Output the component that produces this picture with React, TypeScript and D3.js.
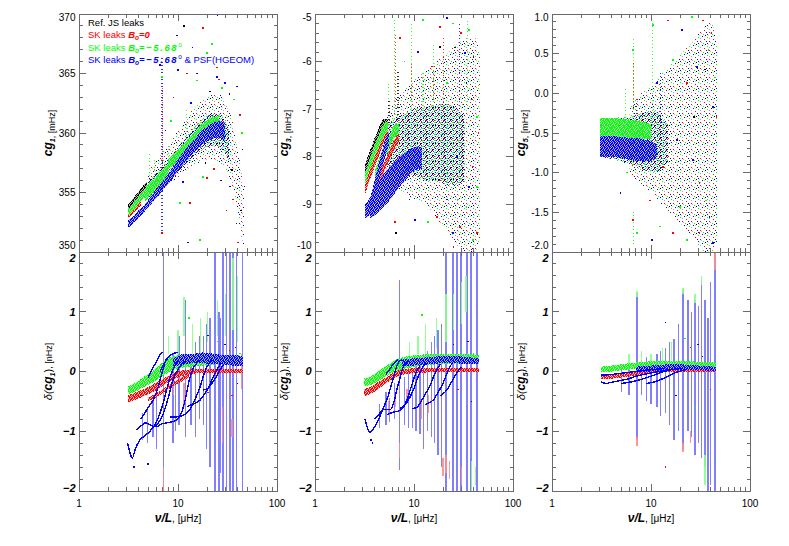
import React from "react";
import * as d3 from "d3";

// [nu, value]   [nu, lo, hi]   [nu, value, colour]   [nu, lo, hi, colour]
type Pt = [number, number];
type Band = [number, number, number];
type Dot = [number, number, number];
type Seg = [number, number, number, number];

const SERIES = ["Ref. JS leaks", "SK leaks B0=0", "SK leaks B0=-5.68", "SK leaks B0=-5.68 & PSF(HGEOM)"];
const COLORS = ["#000000", "#ff0000", "#00ff00", "#0000ff"];
const PALE = ["#9a9a9a", "#ff9c9c", "#9cff9c", "#9c9cff"];
const BAR_COLORS = ["#808080", "#ff8a8a", "#8aff8a", "#7373ff"];

const X_TICKS = [1, 10, 100];
const X_MINOR = [2, 3, 4, 5, 6, 7, 8, 9, 20, 30, 40, 50, 60, 70, 80, 90];

const CG1_TICKS = [350, 355, 360, 365, 370];
const CG3_TICKS = [-10, -9, -8, -7, -6, -5];
const CG5_TICKS = [-2, -1.5, -1, -0.5, 0, 0.5, 1];
const DELTA_TICKS = [-2, -1, 0, 1, 2];

// ---------- cg1 (top left) ----------
const cg1Sparse: Band[] = [
  [5, 354.6, 356.8], [6, 354.9, 357.6], [7, 355.2, 358.4], [8.5, 355.8, 359.3], [10, 356.3, 360.2],
  [12, 356.8, 361.2], [15, 357.3, 362.2], [18, 357.7, 362.8], [22, 357.8, 363.3], [26, 357.5, 363.3],
  [30, 357, 362.5], [34, 356, 361.5], [38, 354.5, 360], [42, 352.2, 358], [46, 350.3, 355.5],
];
const cg1Dense: Band[] = [
  [5, 354.6, 356], [6, 355, 356.6], [7, 355.4, 357.2], [8.5, 356, 358], [10, 356.6, 358.8],
  [12, 357.3, 359.6], [15, 358.1, 360.6], [18, 358.6, 361.2], [22, 358.9, 361.6], [26, 358.8, 361.6],
  [30, 358.3, 361.1], [33, 357.5, 360.3],
];
const cg1Bands: [number, Band[]][] = [
  [0, [[3.1, 353.4, 353.9], [3.6, 354, 354.6], [4.2, 354.7, 355.3], [4.9, 355.4, 356]]],
  [1, [[3.1, 352.8, 353.1], [3.6, 353.3, 353.7], [4.2, 353.9, 354.3]]],
  [2, [[3.1, 353.0, 353.5], [3.6, 353.6, 354.2], [4.2, 354.2, 354.9], [5.0, 354.9, 355.7], [5.6, 355.4, 356.2]]],
  [2, [[4.6, 354.2, 354.8], [5.2, 354.7, 355.5], [6, 355.3, 356.3], [7, 355.9, 357], [8, 356.4, 357.5]]],
  [2, [[8, 357, 357.8], [10, 357.6, 358.6], [12, 358.3, 359.3], [15, 359.2, 360.2], [18, 359.8, 360.9], [22, 360.3, 361.3], [26, 360.4, 361.5]]],
  [3, [[3.1, 352.0, 352.6], [3.5, 352.4, 353.0], [4.0, 352.9, 353.5], [4.6, 353.4, 354.0], [5.3, 354.0, 354.7],
       [6.2, 354.6, 355.4], [7.2, 355.3, 356.1], [8.5, 356.0, 356.9], [10, 356.8, 357.8], [12, 357.6, 358.7],
       [15, 358.5, 359.6], [18, 359.1, 360.3], [22, 359.5, 360.8], [26, 359.6, 361], [30, 359.2, 360.8]]],
];
const cg1Spikes: Seg[] = [
  [6.9, 351.5, 366.5, 3], [7.0, 355.5, 364, 1], [5.2, 355.5, 358.2, 2], [5.8, 355.6, 357.8, 2],
  [8.0, 356.5, 359.2, 2], [12.2, 358, 362, 2],
];
const cg1Dots: Dot[] = [
  [6.6, 365.7, 3], [9.8, 368.2, 3], [11.5, 369, 0], [17.9, 368.8, 1], [25, 369.9, 3], [19.6, 366.7, 2],
  [24.6, 365.5, 1], [15.5, 365, 3], [10, 365.3, 3], [6.9, 364.7, 2], [12.3, 365, 1], [15.5, 364.4, 2],
  [24.8, 364.7, 3], [26, 364.5, 1], [39.4, 363.9, 3], [45, 358.6, 3], [40.4, 350.8, 1], [39, 352.4, 3],
  [16.6, 351, 2], [12.6, 350.8, 3], [6.9, 351.6, 1], [31, 353.5, 1], [13.2, 354.1, 1], [17.9, 356.3, 2],
  [19.6, 356.2, 1], [11.2, 355.9, 3], [10.5, 354.1, 2], [33.5, 355.5, 3], [36, 354.4, 1], [35, 356.9, 0],
  [28, 363.8, 2], [30, 364.2, 3], [21, 363.5, 0], [8.5, 361, 2], [7.5, 360.2, 3], [9, 363, 1],
  [13.5, 362.5, 3], [44, 360, 2], [42, 361.5, 1], [37, 362.8, 2], [33, 363.3, 3], [22, 367.5, 2],
  [14, 367.2, 3], [47, 355.5, 3], [43, 353.5, 0], [27, 356, 3], [23, 357, 1], [19, 357.5, 0],
];

// ---------- cg3 (top middle) ----------
const cg3Sparse: Band[] = [
  [5.2, -8.4, -7.2], [6.5, -8.7, -6.8], [8, -8.8, -6.6], [10, -8.9, -6.4], [13, -9.0, -6.2],
  [17, -9.3, -6.0], [22, -9.6, -5.8], [28, -9.9, -5.6], [35, -10, -5.5], [42, -10, -5.5], [46, -9.8, -5.8],
];
const cg3Dense: Band[] = [
  [5.3, -8.2, -7.3], [6.5, -8.3, -7.2], [8, -8.4, -7.1], [10, -8.4, -7.0], [13, -8.5, -6.95],
  [17, -8.5, -6.9], [22, -8.6, -6.9], [28, -8.6, -7.0], [33, -8.5, -7.2],
];
const cg3Bands: [number, Band[]][] = [
  [0, [[3.2, -8.35, -8.15], [3.7, -8.0, -7.8], [4.3, -7.7, -7.45], [5.0, -7.45, -7.2], [5.5, -7.4, -7.2]]],
  [1, [[3.2, -8.8, -8.6], [3.7, -8.4, -8.2], [4.3, -8.05, -7.85], [5.0, -7.7, -7.5], [5.4, -7.6, -7.4]]],
  [1, [[4.0, -8.75, -8.55], [4.6, -8.5, -8.3], [5.4, -8.15, -7.95], [6.3, -7.85, -7.65], [7.0, -7.7, -7.5]]],
  [2, [[3.2, -8.6, -8.35], [3.7, -8.2, -7.95], [4.3, -7.85, -7.6], [5.0, -7.55, -7.3], [5.5, -7.45, -7.25]]],
  [2, [[4.0, -8.55, -8.3], [4.6, -8.2, -7.95], [5.4, -7.9, -7.65], [6.3, -7.6, -7.35], [7.0, -7.5, -7.3]]],
  [3, [[3.2, -9.3, -9.0], [3.6, -9.2, -8.85], [4.1, -8.8, -8.4], [4.7, -8.3, -7.9], [5.2, -7.95, -7.6], [5.6, -7.75, -7.45]]],
  [3, [[3.6, -9.3, -8.9], [4.2, -9.2, -8.6], [5.0, -9.05, -8.35], [6, -8.85, -8.15], [7, -8.65, -8.0],
       [8.5, -8.45, -7.9], [10, -8.3, -7.8], [12, -8.25, -7.8]]],
];
const cg3Spikes: Seg[] = [
  [5.5, -7.3, -6.4, 2], [5.6, -7.3, -6.8, 0], [6.3, -7.2, -5.1, 2], [6.45, -7.0, -5.4, 1], [6.9, -7.2, -6.2, 0],
  [9.5, -7.0, -5.2, 2], [9.4, -6.8, -6.0, 1], [12.3, -7.0, -6.2, 2], [15.6, -7.0, -5.6, 2], [15.8, -6.8, -6.2, 1],
  [29, -7, -5.2, 3], [35, -7, -5.1, 2], [20, -7, -5.5, 1],
];
const cg3Dots: Dot[] = [
  [12.3, -5.13, 2], [18.3, -5.27, 1], [21.5, -5.08, 3], [24.8, -5.2, 2], [30, -5.4, 1], [36, -5.34, 2],
  [32.7, -5.82, 3], [18.3, -5.69, 0], [15.2, -6.1, 1], [21.5, -6.45, 2], [34, -6.45, 3], [38.5, -6.8, 1],
  [43, -7.16, 2], [39.5, -8.2, 1], [36, -8.63, 3], [34, -9.05, 2], [29, -9.48, 1], [24.8, -9.6, 3],
  [39.5, -9.75, 2], [43, -9.6, 1], [21.5, -8.9, 3], [17, -9.26, 1], [13.8, -9.37, 2], [6.4, -9.37, 1],
  [6.6, -9.6, 0], [10.2, -9.33, 3], [43, -8.63, 2], [18.3, -8.5, 1], [21.5, -8.35, 2], [27, -8.0, 3],
  [8.0, -6.0, 2], [7.2, -5.5, 1], [11, -5.8, 3], [26, -5.7, 0], [40, -5.9, 3], [45, -6.5, 2],
  [45, -7.5, 1], [31, -6.9, 2], [28, -8.9, 2], [14, -8.9, 1], [9, -8.9, 3], [25, -9.9, 1], [38, -9.95, 3],
];

// ---------- cg5 (top right) ----------
const cg5Sparse: Band[] = [
  [6, -1.0, -0.2], [8, -1.15, 0.0], [10, -1.25, 0.1], [13, -1.4, 0.25], [17, -1.55, 0.4],
  [22, -1.7, 0.55], [28, -1.85, 0.7], [35, -2.0, 0.85], [42, -2.0, 0.9], [46, -1.9, 0.6],
];
const cg5Dense: Band[] = [
  [3.05, -0.8, -0.32], [5, -0.86, -0.3], [7, -0.92, -0.28], [9, -0.98, -0.22], [11, -1.0, -0.22],
  [13, -0.95, -0.3], [15, -0.85, -0.4],
];
const cg5Bands: [number, Band[]][] = [
  [0, [[3.05, -0.4, -0.34], [4, -0.39, -0.33], [5, -0.4, -0.34]]],
  [1, [[3.05, -0.72, -0.6], [4, -0.72, -0.6], [5, -0.74, -0.6], [6, -0.76, -0.62]]],
  [2, [[3.05, -0.56, -0.31], [4, -0.56, -0.31], [5, -0.56, -0.32], [6, -0.57, -0.33], [7, -0.58, -0.34], [8.5, -0.58, -0.36], [10, -0.58, -0.4]]],
  [3, [[3.05, -0.8, -0.54], [4, -0.8, -0.54], [5, -0.82, -0.55], [6, -0.84, -0.56], [7, -0.85, -0.56], [8.5, -0.86, -0.58], [10, -0.85, -0.6], [11.5, -0.8, -0.64]]],
];
const cg5Spikes: Seg[] = [
  [5.5, -0.4, 0.05, 2], [6.6, -0.3, 0.7, 2], [6.7, -0.2, 0.4, 1], [7.2, -0.35, -0.05, 0],
  [10.3, -0.4, 0.9, 2], [12.5, -0.5, 0.3, 3], [6.6, -1.9, -1.5, 2],
];
const cg5Dots: Dot[] = [
  [10.5, 0.86, 2], [14.8, 0.92, 1], [20.5, 0.8, 3], [26, 0.96, 2], [33.5, 0.92, 1], [41, 0.76, 1],
  [38, 0.55, 2], [29, 0.33, 3], [23, 0.13, 1], [16.7, 0.42, 2], [11.5, 0.13, 3], [6.6, 0.55, 2],
  [7.2, -0.08, 1], [42, -0.17, 3], [46, -0.3, 1], [31, -1.13, 1], [36, -1.35, 2], [39, -1.56, 3],
  [31, -1.76, 1], [23, -1.85, 2], [42, -1.89, 3], [16.7, -1.76, 1], [12.3, -1.68, 2], [10.2, -1.85, 3],
  [7.2, -1.76, 2], [6.6, -1.6, 1], [4.9, -1.26, 3], [5.7, -1.0, 2], [9.8, -1.35, 1], [19.6, -1.43, 2],
  [26.6, -0.84, 3], [13.2, -0.93, 1], [18.3, -0.59, 3], [35, 0.3, 0], [27, -0.3, 0], [44, 0.2, 2],
];

// ---------- delta cg1 (bottom left) ----------
const d1Bands: [number, Band[]][] = [
  [1, [[3.1, -0.52, -0.4], [3.6, -0.48, -0.36], [4.4, -0.42, -0.3], [5.5, -0.35, -0.22], [6.6, -0.27, -0.15],
       [8, -0.18, -0.07], [10, -0.1, 0.0], [14, -0.04, 0.04], [20, -0.02, 0.05], [30, -0.02, 0.05], [45, -0.02, 0.05]]],
  [1, [[5, -0.5, -0.43], [6.5, -0.4, -0.33], [8, -0.3, -0.23], [10, -0.2, -0.13], [13, -0.1, -0.04]]],
  [2, [[3.1, -0.38, -0.25], [3.8, -0.33, -0.18], [4.6, -0.25, -0.08], [5.6, -0.18, 0.02], [7, -0.08, 0.15],
       [8.3, 0.0, 0.24], [10, 0.05, 0.27], [14, 0.08, 0.28], [18, 0.1, 0.28], [25, 0.12, 0.28], [35, 0.12, 0.28], [45, 0.12, 0.26]]],
  [3, [[9, 0.1, 0.22], [10, 0.1, 0.26], [12, 0.12, 0.3], [15, 0.14, 0.3], [18, 0.14, 0.32], [22, 0.12, 0.3],
       [28, 0.12, 0.28], [35, 0.1, 0.28], [45, 0.1, 0.25]]],
];
const d1Ridges: Pt[][] = [
  [[3.1, -1.2], [3.3, -1.38], [3.45, -1.45], [3.7, -1.3], [4.1, -1.15], [4.6, -1.08], [5.2, -1.0], [5.8, -0.9],
   [6.4, -0.75], [7.1, -0.52], [7.7, -0.3], [8.3, -0.1], [9.2, 0.08], [10, 0.18]],
  [[3.85, -0.98], [4.3, -0.9], [4.7, -0.86], [5.3, -0.9], [5.8, -0.92], [6.6, -0.81], [7.2, -0.68], [7.7, -0.53],
   [8.3, -0.33], [8.9, -0.14], [10.4, 0.08], [12, 0.18]],
  [[4.2, -0.8], [4.6, -0.7], [5.0, -0.6], [5.6, -0.48], [6.2, -0.3], [6.6, -0.14], [7.1, 0.05], [7.6, 0.2], [8.5, 0.28]],
  [[6.1, -0.93], [6.8, -0.88], [7.7, -0.86], [8.8, -0.84], [9.8, -0.81], [10.8, -0.7], [11.8, -0.48], [13, -0.14],
   [14.2, 0.05], [15.5, 0.14], [17, 0.2]],
  [[8.3, -0.76], [9.5, -0.76], [11, -0.74], [13.2, -0.64], [15, -0.45], [16.7, -0.26], [18, -0.08], [19.6, 0.08], [22, 0.18]],
  [[12.3, -0.59], [14, -0.55], [16.7, -0.48], [18.5, -0.38], [20.5, -0.26], [22.5, -0.1], [24.8, 0.03], [27, 0.14]],
  [[17.9, -0.31], [20, -0.28], [22, -0.2], [24.5, -0.08], [26.6, 0.03], [29, 0.12]],
  [[5.0, -0.1], [5.5, 0.05], [6.0, 0.15], [6.6, 0.28], [7.1, 0.33]],
  [[6.6, 0.0], [7.3, 0.14], [8, 0.24], [9, 0.3], [10, 0.32]],
];
const d1Bars: Seg[] = [
  [7.1, -2.5, 2.5, 3], [23.6, -2.5, 2.5, 3], [28.5, -2.5, 2.5, 3], [31, -2.5, 2.5, 3], [33.5, -2.5, 2.5, 3],
  [36, -2.5, 2.5, 3], [39, -2.5, 2.5, 3], [45, -2.5, 2.5, 3],
  [12, -1.1, 1.2, 3], [10.2, -0.9, 0.6, 3], [8.9, -1.2, 0.3, 3], [6.1, -1.3, -0.2, 3], [5.6, -1.1, -0.5, 3],
  [4.9, -1.2, -0.6, 3], [4.4, -1.15, -0.7, 3], [9.5, -1.0, -0.2, 3], [13.5, -0.9, 0.3, 3], [15, -1.1, 0.5, 3],
  [16.5, -0.8, 0.6, 3], [18, -0.9, 0.6, 3], [19.5, -1.3, 0.8, 3], [21, -1.6, 0.9, 3], [26, -2.1, 1.0, 3], [27, -1.7, 0.9, 3],
  [7.1, -2.0, -1.6, 1], [28, -1.2, -0.6, 1], [35, -1.1, -0.8, 1], [44, -0.3, 0.3, 1], [11.5, -0.6, -0.2, 1], [9, -0.4, -0.25, 1],
  [11.5, 0.6, 1.25, 2], [20, 0.5, 1.0, 2], [25, 0.6, 1.2, 2], [30, 0.6, 1.3, 2], [36, 0.7, 1.9, 2], [40, 0.5, 1.6, 2],
  [8, 0.3, 0.6, 2], [10, 0.3, 0.7, 2], [14, 0.3, 0.8, 2], [17, 0.3, 0.9, 2],
];
const d1Dots: Dot[] = [
  [20, 0.6, 3], [25, 0.5, 2], [30, 0.45, 3], [33, 0.35, 1], [38, 0.4, 3], [42, 0.3, 2], [13, 0.9, 2],
  [20, -0.35, 1], [35, -0.4, 1], [40, -0.2, 3], [5.0, -1.55, 3], [3.6, -1.6, 3],
];

// ---------- delta cg3 (bottom middle) ----------
const d3Bands: [number, Band[]][] = [
  [1, [[3.1, -0.42, -0.3], [3.6, -0.38, -0.26], [4.3, -0.3, -0.18], [5.2, -0.2, -0.1], [6.5, -0.1, 0.0],
       [8, -0.05, 0.04], [12, -0.02, 0.06], [20, -0.01, 0.06], [30, -0.01, 0.06], [45, -0.01, 0.06]]],
  [2, [[3.1, -0.25, -0.12], [3.7, -0.22, -0.08], [4.5, -0.15, 0.02], [5.5, -0.06, 0.12], [7, 0.02, 0.22],
       [9, 0.06, 0.26], [12, 0.1, 0.28], [18, 0.12, 0.3], [28, 0.12, 0.3], [45, 0.12, 0.28]]],
  [3, [[7.5, 0.08, 0.2], [10, 0.1, 0.22], [14.5, 0.12, 0.24], [20, 0.14, 0.26], [25, 0.14, 0.26], [35, 0.12, 0.24], [45, 0.12, 0.22]]],
];
const d3Ridges: Pt[][] = [
  [[3.2, -0.8], [3.4, -0.95], [3.6, -1.02], [3.8, -0.98], [4.0, -0.93], [4.5, -0.76], [5.0, -0.58], [5.5, -0.4],
   [6.1, -0.14], [6.9, 0.14], [7.5, 0.2]],
  [[4.0, -0.8], [4.5, -0.7], [4.9, -0.64], [5.7, -0.64], [6.3, -0.5], [6.7, -0.31], [7.2, -0.12], [7.8, 0.08], [8.8, 0.17]],
  [[5.4, -0.72], [6.2, -0.68], [7.0, -0.66], [7.8, -0.6], [8.6, -0.45], [9.4, -0.25], [10.3, -0.05], [11.5, 0.1]],
  [[7.2, -0.62], [8.2, -0.55], [9.1, -0.43], [10, -0.28], [10.7, -0.14], [11.5, -0.02], [12.3, 0.08], [13.5, 0.14]],
  [[9.5, -0.62], [10.7, -0.6], [12, -0.48], [13.2, -0.36], [14.5, -0.24], [15.8, -0.08], [17, 0.03], [18.5, 0.12]],
  [[13, -0.55], [15.6, -0.48], [17.5, -0.35], [19.6, -0.2], [21.3, -0.05], [23, 0.08], [25, 0.15]],
  [[18.5, -0.4], [21.5, -0.31], [24, -0.17], [27, -0.03], [30, 0.08]],
  [[5.2, -0.05], [5.8, 0.06], [6.3, 0.14], [6.9, 0.2]],
];
const d3Bars: Seg[] = [
  [7.1, -1.65, 1.53, 3], [21, -2.5, 2.5, 3], [24.8, -2.5, 2.5, 3], [27.2, -2.5, 2.5, 3], [29.8, -2.5, 2.5, 3],
  [34.2, -2.5, 2.5, 3], [37.6, -2.5, 2.5, 3], [43.3, -2.5, 2.5, 3],
  [4.5, -0.95, -0.55, 3], [5.2, -0.9, -0.35, 3], [5.7, -0.85, -0.45, 3], [6.4, -0.8, -0.2, 3], [8, -0.9, -0.1, 3],
  [8.8, -0.95, 0.1, 3], [9.6, -0.95, 0.0, 3], [10.5, -1.0, 0.15, 3], [11.5, -1.05, 0.2, 3], [12.5, -1.3, 0.3, 3],
  [13.8, -1.0, 0.35, 3], [15, -1.1, 0.5, 3], [16.2, -1.2, 0.6, 3], [17.5, -1.4, 0.7, 3], [19, -1.6, 0.8, 3],
  [7.1, -1.45, -1.2, 1], [19.6, -1.75, -1.45, 1], [21, -1.7, -1.4, 1], [23, -1.8, -1.5, 1], [30, -1.9, -1.6, 1],
  [5.5, -0.7, -0.5, 1], [6.5, -0.6, -0.4, 1], [8.5, -0.5, -0.3, 1], [12, -0.8, -0.5, 1], [14, -0.7, -0.4, 1],
  [9, 0.2, 0.5, 2], [11, 0.3, 0.6, 2], [13, 0.3, 0.8, 2], [17, 0.4, 0.9, 2], [21, 0.5, 1.3, 2], [25, 0.7, 1.3, 2],
  [30, 0.8, 1.5, 2], [33.5, 1.0, 1.6, 2], [38, -2.0, -1.5, 2], [42, -1.9, -1.6, 2],
];
const d3Dots: Dot[] = [
  [25, 0.45, 3], [30, 0.35, 2], [35, 0.5, 3], [40, 0.3, 2], [12, 0.95, 2], [3.8, -1.2, 3], [3.7, -1.15, 3],
  [28, -0.3, 1], [38, -0.5, 3],
];

// ---------- delta cg5 (bottom right) ----------
const d5Bands: [number, Band[]][] = [
  [1, [[3.1, -0.13, -0.05], [4, -0.12, -0.04], [5, -0.1, -0.03], [7, -0.07, 0.0], [10, -0.03, 0.03],
       [15, -0.01, 0.04], [25, 0.0, 0.05], [45, 0.0, 0.05]]],
  [2, [[3.1, -0.02, 0.08], [4, 0.0, 0.1], [5, 0.02, 0.12], [7, 0.04, 0.15], [10, 0.06, 0.17], [15, 0.07, 0.18],
       [25, 0.06, 0.17], [45, 0.05, 0.15]]],
  [3, [[7, -0.02, 0.08], [10, 0.0, 0.1], [15, 0.02, 0.12], [20, 0.03, 0.12], [30, 0.02, 0.1], [45, 0.01, 0.08]]],
];
const d5Ridges: Pt[][] = [
  [[3.1, -0.17], [3.5, -0.2], [4, -0.18], [5, -0.15], [6, -0.12], [7, -0.08], [9, -0.04], [12, 0.0], [16, 0.03]],
  [[5, -0.2], [6.5, -0.17], [8, -0.13], [10, -0.08], [12, -0.03], [15, 0.02], [20, 0.05]],
  [[9, -0.2], [11, -0.17], [14, -0.1], [17, -0.03], [22, 0.03]],
  [[3.1, -0.06], [4, -0.05], [5, -0.03], [7, 0.0], [10, 0.03], [14, 0.05]],
];
const d5Bars: Seg[] = [
  [7.2, -1.15, 1.31, 3], [17.1, -1.15, 0.55, 3], [21, -1.31, 1.36, 3], [23.6, -1.0, 1.2, 3], [27.8, -1.4, 1.2, 3],
  [32.5, -1.45, 1.55, 3], [37.6, -2.5, 0.9, 3], [44.2, -2.5, 2.0, 3], [5, -0.35, 0.1, 3], [6, -0.4, 0.15, 3],
  [8, -0.4, 0.2, 3], [9, -0.5, 0.25, 3], [10, -0.55, 0.2, 3], [11.5, -0.6, 0.3, 3], [12.5, -0.75, 0.35, 3],
  [14, -0.7, 0.4, 3], [15.5, -0.9, 0.5, 3], [19, -1.0, 0.8, 3], [25.5, -1.1, 1.0, 3], [30, -1.2, 1.1, 3],
  [35, -1.6, 1.2, 3], [40, -1.9, 1.5, 3],
  [7.2, -1.25, -1.1, 1], [44.2, 1.7, 2.0, 1], [21, -1.35, -1.2, 1], [25, -1.2, -1.0, 1],
  [7.2, 1.25, 1.35, 2], [21, 1.3, 1.4, 2], [27.8, 1.15, 1.3, 2], [32.5, 1.45, 1.6, 2], [6, 0.1, 0.3, 2],
  [8, 0.15, 0.35, 2], [10, 0.1, 0.3, 2], [13, 0.15, 0.4, 2], [16, 0.2, 0.5, 2], [35, -1.9, -1.4, 2],
];
const d5Dots: Dot[] = [
  [14, 0.82, 3], [22, 0.55, 2], [25, 0.4, 1], [30, 0.45, 3], [33, 0.25, 3], [40, -0.3, 1], [18, -0.4, 3],
  [28, -0.6, 2], [14, -1.6, 1],
];

// ---------- layout ----------
const COL_X = [79, 315, 552];
const COL_W = 198;
const ROW_Y = [14, 252];
const ROW_H = [238, 239];
const FONT = "'Liberation Sans', Arial, Helvetica, sans-serif";
const FRAME = "#6a6a6a";

type Panel = {
  col: number; row: number; domain: [number, number]; ticks: number[]; minorStep: number;
  fmt: (v: number) => string; sub: string;
  sparse?: Band[]; dense?: Band[]; bands: [number, Band[]][]; ridges?: Pt[][];
  spikes?: Seg[]; dots: Dot[]; bars?: Seg[];
};

const topFmt = (v: number) => String(v);
const deltaFmt = (v: number) => (v < 0 ? "\u2212" + Math.abs(v) : String(v));

const panels: Panel[] = [
  { col: 0, row: 0, domain: [350, 370], ticks: CG1_TICKS, minorStep: 1, fmt: topFmt, sub: "1",
    sparse: cg1Sparse, dense: cg1Dense, bands: cg1Bands, spikes: cg1Spikes, dots: cg1Dots },
  { col: 1, row: 0, domain: [-10, -5], ticks: CG3_TICKS, minorStep: 0.2, fmt: topFmt, sub: "3",
    sparse: cg3Sparse, dense: cg3Dense, bands: cg3Bands, spikes: cg3Spikes, dots: cg3Dots },
  { col: 2, row: 0, domain: [-2, 1], ticks: CG5_TICKS, minorStep: 0.1, fmt: (v) => v.toFixed(1), sub: "5",
    sparse: cg5Sparse, dense: cg5Dense, bands: cg5Bands, spikes: cg5Spikes, dots: cg5Dots },
  { col: 0, row: 1, domain: [-2, 2], ticks: DELTA_TICKS, minorStep: 0.2, fmt: deltaFmt, sub: "1",
    bands: d1Bands, ridges: d1Ridges, bars: d1Bars, dots: d1Dots },
  { col: 1, row: 1, domain: [-2, 2], ticks: DELTA_TICKS, minorStep: 0.2, fmt: deltaFmt, sub: "3",
    bands: d3Bands, ridges: d3Ridges, bars: d3Bars, dots: d3Dots },
  { col: 2, row: 1, domain: [-2, 2], ticks: DELTA_TICKS, minorStep: 0.2, fmt: deltaFmt, sub: "5",
    bands: d5Bands, ridges: d5Ridges, bars: d5Bars, dots: d5Dots },
];

function PanelView({ p, i }: { p: Panel; i: number }) {
  const x0 = COL_X[p.col];
  const y0 = ROW_Y[p.row];
  const h = ROW_H[p.row];
  const x = d3.scaleLog().domain([1, 100]).range([x0, x0 + COL_W]);
  const y = d3.scaleLinear().domain(p.domain).range([y0 + h, y0]);
  const area = d3.area<Band>().x((d) => x(d[0])).y0((d) => y(d[1])).y1((d) => y(d[2])).curve(d3.curveMonotoneX);
  const line = d3.line<Pt>().x((d) => x(d[0])).y((d) => y(d[1])).curve(d3.curveMonotoneX);
  const minor = d3.range(p.domain[0], p.domain[1] + 1e-9, p.minorStep);
  const clip = `clip${i}`;
  const bottom = p.row === 1;
  const labelFont = bottom
    ? { fontWeight: "bold" as const, fontStyle: "italic" as const, fontSize: 11 }
    : { fontSize: 10 };
  // IDL keeps the end labels inside the panel
  const labelShift = (k: number) => (k === 0 ? (bottom ? -3 : -6.5) : k === p.ticks.length - 1 ? (bottom ? 6.5 : 3) : 0);
  return (
    <g>
      <clipPath id={clip}>
        <rect x={x0} y={y0} width={COL_W} height={h} />
      </clipPath>
      <g clipPath={`url(#${clip})`}>
        {p.sparse && <path d={area(p.sparse) || ""} fill="url(#cloudSparse)" />}
        {p.dense && <path d={area(p.dense) || ""} fill="url(#cloudDense)" />}
        {(p.bars || []).map((b, k) => (
          <line key={"b" + k} x1={x(b[0])} x2={x(b[0])} y1={y(b[1])} y2={y(b[2])}
            stroke={BAR_COLORS[b[3]]} strokeWidth={1.3} opacity={0.9} />
        ))}
        {(p.spikes || []).map((s, k) => (
          <line key={"s" + k} x1={x(s[0])} x2={x(s[0])} y1={y(s[1])} y2={y(s[2])}
            stroke={COLORS[s[3]]} strokeWidth={1.2} strokeDasharray="1 2.5" opacity={0.8} />
        ))}
        {[0, 1, 2, 3].map((c) =>
          p.bands.filter((b) => b[0] === c).map((b, k) => (
            <g key={`r${c}-${k}`}>
              <path d={area(b[1]) || ""} fill={PALE[c]} opacity={0.7} />
              <path d={area(b[1]) || ""} fill={`url(#ridge${c})`} />
            </g>
          ))
        )}
        {(p.ridges || []).map((r, k) => (
          <path key={"l" + k} d={line(r) || ""} fill="none" stroke={COLORS[3]} strokeWidth={1.4} />
        ))}
        {p.dots.map((d, k) => (
          <rect key={"d" + k} x={x(d[0]) - 0.8} y={y(d[1]) - 0.8} width={1.6} height={1.6} fill={COLORS[d[2]]} />
        ))}
      </g>
      <rect x={x0} y={y0} width={COL_W} height={h} fill="none" stroke={FRAME} strokeWidth={1} shapeRendering="crispEdges" />
      <g stroke={FRAME} strokeWidth={1} shapeRendering="crispEdges">
        {minor.map((v, k) => (
          <g key={"ym" + k}>
            <line x1={x0} x2={x0 + 3.5} y1={y(v)} y2={y(v)} />
            <line x1={x0 + COL_W} x2={x0 + COL_W - 3.5} y1={y(v)} y2={y(v)} />
          </g>
        ))}
        {p.ticks.map((v, k) => (
          <g key={"yM" + k}>
            <line x1={x0} x2={x0 + 7} y1={y(v)} y2={y(v)} />
            <line x1={x0 + COL_W} x2={x0 + COL_W - 7} y1={y(v)} y2={y(v)} />
          </g>
        ))}
        {X_MINOR.map((v, k) => (
          <g key={"xm" + k}>
            <line x1={x(v)} x2={x(v)} y1={y0} y2={y0 + 4} />
            <line x1={x(v)} x2={x(v)} y1={y0 + h} y2={y0 + h - 4} />
          </g>
        ))}
        {X_TICKS.map((v, k) => (
          <g key={"xM" + k}>
            <line x1={x(v)} x2={x(v)} y1={y0} y2={y0 + 7} />
            <line x1={x(v)} x2={x(v)} y1={y0 + h} y2={y0 + h - 7} />
          </g>
        ))}
      </g>
      <g fontFamily={FONT} fill="#000" textAnchor="end" {...labelFont}>
        {p.ticks.map((v, k) => (
          <text key={"yl" + k} x={x0 - 3.5} y={y(v) + labelShift(k)} dy="0.36em">{p.fmt(v)}</text>
        ))}
      </g>
      {bottom && (
        <g fontFamily={FONT} fill="#000" textAnchor="middle">
          {X_TICKS.map((v, k) => (
            <text key={"xl" + k} x={x(v)} y={507} fontSize={10}>{v}</text>
          ))}
          <text x={x(10)} y={522}>
            <tspan fontWeight="bold" fontStyle="italic" fontSize={12}>{"\u03bd/L"}</tspan>
            <tspan fontSize={10}>{", [\u03bcHz]"}</tspan>
          </text>
        </g>
      )}
      <YTitle x={x0 - 27} y={y0 + h / 2} sub={p.sub} delta={bottom} />
    </g>
  );
}

function YTitle({ x, y, sub, delta }: { x: number; y: number; sub: string; delta: boolean }) {
  return (
    <text transform={`translate(${x},${y}) rotate(-90)`} textAnchor="middle" fontFamily={FONT} fill="#000">
      {delta && <tspan fontStyle="italic" fontSize={11}>{"\u03b4("}</tspan>}
      <tspan fontWeight="bold" fontStyle="italic" fontSize={12}>cg</tspan>
      <tspan fontWeight="bold" fontStyle="italic" fontSize={7} dy={3}>{sub}</tspan>
      <tspan dy={-3} fontSize={delta ? 11 : 9}>{delta ? ")" : ""}</tspan>
      <tspan fontSize={9}>{delta ? ", [nHz]" : ", [mHz]"}</tspan>
    </text>
  );
}

function Legend() {
  const bi = { fontWeight: "bold" as const, fontStyle: "italic" as const };
  const rows = [26, 38, 50.5, 63];
  return (
    <g fontFamily={FONT} fontSize={9.5}>
      <text x={88} y={rows[0]} fill={COLORS[0]}>{SERIES[0]}</text>
      {[1, 2, 3].map((c) => (
        <text key={c} x={88} y={rows[c]} fill={COLORS[c]}>
          <tspan>{"SK leaks "}</tspan>
          <tspan {...bi}>B</tspan>
          <tspan {...bi} fontSize={6.5} dy={2}>o</tspan>
          {c === 1 ? (
            <tspan {...bi} dy={-2}>=0</tspan>
          ) : (
            <>
              <tspan {...bi} dy={-2} letterSpacing={1.6}>{"=\u22125.68"}</tspan>
              <tspan fontSize={6.5} dy={-4}>o</tspan>
              <tspan dy={4}>{c === 3 ? " & PSF(HGEOM)" : ""}</tspan>
            </>
          )}
        </text>
      ))}
    </g>
  );
}

// speckle textures standing in for thousands of single-pixel symbols
function Patterns() {
  const sparse: [number, number, string][] = [
    [0, 0, COLORS[3]], [5, 1, COLORS[2]], [2, 3, COLORS[1]], [7, 2, PALE[3]], [4, 5, COLORS[3]],
    [8, 6, PALE[1]], [1, 7, COLORS[2]], [6, 8, PALE[2]], [3, 8, COLORS[0]], [7, 5, COLORS[1]],
    [2, 0, PALE[2]], [5, 7, COLORS[3]],
  ];
  const dense: [number, number, string][] = [
    [0, 0, COLORS[3]], [3, 0, COLORS[2]], [1, 1, COLORS[1]], [4, 2, COLORS[3]], [0, 3, COLORS[2]],
    [2, 2, PALE[3]], [5, 4, COLORS[2]], [3, 4, COLORS[3]], [1, 5, COLORS[0]], [4, 5, PALE[1]],
    [5, 1, COLORS[3]], [2, 4, PALE[2]], [0, 5, COLORS[3]], [3, 2, COLORS[2]],
  ];
  const ridgeCells: [number, number][] = [
    [0, 0], [2, 0], [3, 0], [1, 1], [3, 1], [4, 1], [0, 2], [2, 2], [4, 2], [1, 3], [2, 3], [4, 3],
    [0, 4], [1, 4], [3, 4],
  ];
  return (
    <defs>
      <pattern id="cloudSparse" width={9} height={9} patternUnits="userSpaceOnUse">
        {sparse.map(([a, b, c], k) => <rect key={k} x={a} y={b} width={1} height={1} fill={c} />)}
      </pattern>
      <pattern id="cloudDense" width={6} height={6} patternUnits="userSpaceOnUse">
        {dense.map(([a, b, c], k) => <rect key={k} x={a} y={b} width={1} height={1} fill={c} />)}
      </pattern>
      {COLORS.map((col, ci) => (
        <pattern key={ci} id={`ridge${ci}`} width={5} height={5} patternUnits="userSpaceOnUse">
          {ridgeCells.map(([a, b], k) => <rect key={k} x={a} y={b} width={1} height={1} fill={col} />)}
        </pattern>
      ))}
    </defs>
  );
}

export default function App() {
  return (
    <div style={{ position: "absolute", left: 0, top: 0, background: "#fff" }}>
      <svg width={789} height={546} viewBox="0 0 789 546" style={{ display: "block" }} shapeRendering="crispEdges">
        <rect width={789} height={546} fill="#fff" />
        <Patterns />
        {panels.map((p, i) => <PanelView key={i} p={p} i={i} />)}
        <Legend />
      </svg>
    </div>
  );
}
